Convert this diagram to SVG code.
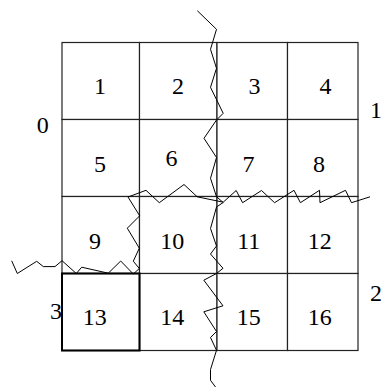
<svg xmlns="http://www.w3.org/2000/svg" width="383" height="387" viewBox="0 0 383 387">
<style>
.cell{fill:#fff;stroke:#222;stroke-width:1.2}
.bold{fill:none;stroke:#000;stroke-width:2}
.t{font-family:"Liberation Serif","Times New Roman",serif;font-size:24px;fill:#000;text-anchor:middle}
.z{fill:none;stroke:#000;stroke-width:1;stroke-linejoin:miter}
</style>
<rect width="383" height="387" fill="#fff"/>
<g id="cell1" class="node"><rect class="cell" x="62" y="42.5" width="77.5" height="77"/><text class="t" x="100" y="94">1</text></g>
<g id="cell2" class="node"><rect class="cell" x="139.5" y="42.5" width="77.5" height="77"/><text class="t" x="178" y="94">2</text></g>
<g id="cell3" class="node"><rect class="cell" x="217" y="42.5" width="70.5" height="77"/><text class="t" x="254.5" y="94">3</text></g>
<g id="cell4" class="node"><rect class="cell" x="287.5" y="42.5" width="70.5" height="77"/><text class="t" x="325.5" y="94">4</text></g>
<g id="cell5" class="node"><rect class="cell" x="62" y="119.5" width="77.5" height="77"/><text class="t" x="100" y="171.5">5</text></g>
<g id="cell6" class="node"><rect class="cell" x="139.5" y="119.5" width="77.5" height="77"/><text class="t" x="171.5" y="165.5">6</text></g>
<g id="cell7" class="node"><rect class="cell" x="217" y="119.5" width="70.5" height="77"/><text class="t" x="248.5" y="171.5">7</text></g>
<g id="cell8" class="node"><rect class="cell" x="287.5" y="119.5" width="70.5" height="77"/><text class="t" x="319" y="171.5">8</text></g>
<g id="cell9" class="node"><rect class="cell" x="62" y="196.5" width="77.5" height="77"/><text class="t" x="95" y="248.5">9</text></g>
<g id="cell10" class="node"><rect class="cell" x="139.5" y="196.5" width="77.5" height="77"/><text class="t" x="172.3" y="248.5">10</text></g>
<g id="cell11" class="node"><rect class="cell" x="217" y="196.5" width="70.5" height="77"/><text class="t" x="248.7" y="248.5">11</text></g>
<g id="cell12" class="node"><rect class="cell" x="287.5" y="196.5" width="70.5" height="77"/><text class="t" x="319.7" y="248.5">12</text></g>
<g id="cell14" class="node"><rect class="cell" x="139.5" y="273.5" width="77.5" height="77"/><text class="t" x="172.3" y="325.3">14</text></g>
<g id="cell15" class="node"><rect class="cell" x="217" y="273.5" width="70.5" height="77"/><text class="t" x="248.7" y="325.3">15</text></g>
<g id="cell16" class="node"><rect class="cell" x="287.5" y="273.5" width="70.5" height="77"/><text class="t" x="319.7" y="325.3">16</text></g>
<g id="cell13" class="node"><rect class="cell" x="62" y="273.5" width="77.5" height="77"/><rect class="bold" x="62" y="273.5" width="77.5" height="77"/><text class="t" x="94.7" y="325.3">13</text></g>
<g id="labels">
<text class="t" x="42.7" y="133.3">0</text>
<text class="t" x="370" y="118" style="text-anchor:start">1</text>
<text class="t" x="370" y="300.5" style="text-anchor:start">2</text>
<text class="t" x="56" y="318.7">3</text>
</g>
<g id="connectors">
<polyline class="z" points="197.3,10.7 216.5,29.3 210.5,49.3 216.5,68.3 210.5,87.3 223.2,113.3 216.5,120 204,138.3 216.5,157.5 210.5,178.3 216.5,196.7 223.2,202.5 216.5,207 210.5,228.5 216.5,246 210.5,254 223,268.3 216.5,273.5 203.8,280.2 223,305.8 203.8,311.8 216.5,331.5 210.5,337.5 216.5,350.3 210.5,369.5 210.5,380.3 215.5,387"/>
<polyline class="z" points="11.7,260.8 17.3,273.5 36.7,261.3 43.3,266.6 55,266.6 62,260.7 76.3,273.5 81.7,267.2 108.3,273.2 120.7,261 133.3,274 139.3,268.5 133.3,261.2 139.3,248.2 127.3,228.2 139.7,215.8 128,197 146,190.3 159.3,202.7 184,184.5 197.2,196.8 223.2,202.2 236.2,190.5 242.6,202.7 261.5,190.5 274.6,202.7 294,190.3 300.4,202.7 319.5,190.3 320,202.7 345.5,190.3 351.5,202.7 370,196.8"/>
</g>
</svg>
